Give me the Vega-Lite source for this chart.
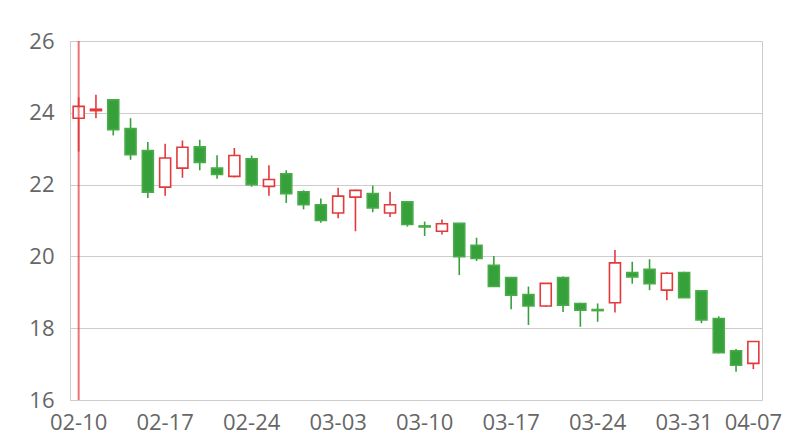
{
  "$schema": "https://vega.github.io/schema/vega-lite/v6.json",
  "width": 692,
  "height": 359,
  "autosize": {"type": "none"},
  "padding": {"left": 70, "top": 41, "right": 38, "bottom": 40},
  "background": "white",
  "config": {
    "view": {"stroke": "#cccccc", "strokeWidth": 1},
    "font": "Open Sans"
  },
  "data": {
    "values": [
      {"date": "02-10", "open": 23.85, "high": 24.43, "low": 22.92, "close": 24.18},
      {"date": "02-11", "open": 24.06, "high": 24.50, "low": 23.85, "close": 24.10},
      {"date": "02-12", "open": 24.36, "high": 24.36, "low": 23.37, "close": 23.53},
      {"date": "02-13", "open": 23.56, "high": 23.85, "low": 22.69, "close": 22.83},
      {"date": "02-14", "open": 22.95, "high": 23.19, "low": 21.63, "close": 21.79},
      {"date": "02-17", "open": 21.93, "high": 23.14, "low": 21.69, "close": 22.74},
      {"date": "02-18", "open": 22.46, "high": 23.23, "low": 22.19, "close": 23.04},
      {"date": "02-19", "open": 23.05, "high": 23.25, "low": 22.40, "close": 22.62},
      {"date": "02-20", "open": 22.46, "high": 22.82, "low": 22.16, "close": 22.28},
      {"date": "02-21", "open": 22.23, "high": 23.02, "low": 22.20, "close": 22.81},
      {"date": "02-24", "open": 22.72, "high": 22.81, "low": 21.94, "close": 22.00},
      {"date": "02-25", "open": 21.95, "high": 22.54, "low": 21.69, "close": 22.14},
      {"date": "02-26", "open": 22.30, "high": 22.40, "low": 21.49, "close": 21.75},
      {"date": "02-27", "open": 21.80, "high": 21.84, "low": 21.31, "close": 21.44},
      {"date": "02-28", "open": 21.44, "high": 21.61, "low": 20.94, "close": 21.00},
      {"date": "03-03", "open": 21.21, "high": 21.91, "low": 21.06, "close": 21.68},
      {"date": "03-04", "open": 21.65, "high": 21.86, "low": 20.70, "close": 21.84},
      {"date": "03-05", "open": 21.75, "high": 21.97, "low": 21.23, "close": 21.35},
      {"date": "03-06", "open": 21.21, "high": 21.80, "low": 21.10, "close": 21.44},
      {"date": "03-07", "open": 21.52, "high": 21.52, "low": 20.83, "close": 20.89},
      {"date": "03-10", "open": 20.85, "high": 20.97, "low": 20.57, "close": 20.82},
      {"date": "03-11", "open": 20.70, "high": 21.03, "low": 20.61, "close": 20.91},
      {"date": "03-12", "open": 20.92, "high": 20.92, "low": 19.48, "close": 19.99},
      {"date": "03-13", "open": 20.31, "high": 20.52, "low": 19.87, "close": 19.94},
      {"date": "03-14", "open": 19.75, "high": 20.01, "low": 19.16, "close": 19.16},
      {"date": "03-17", "open": 19.41, "high": 19.42, "low": 18.53, "close": 18.92},
      {"date": "03-18", "open": 18.94, "high": 19.16, "low": 18.09, "close": 18.62},
      {"date": "03-19", "open": 18.62, "high": 19.25, "low": 18.59, "close": 19.25},
      {"date": "03-20", "open": 19.41, "high": 19.44, "low": 18.45, "close": 18.64},
      {"date": "03-21", "open": 18.69, "high": 18.71, "low": 18.04, "close": 18.50},
      {"date": "03-24", "open": 18.52, "high": 18.69, "low": 18.18, "close": 18.49},
      {"date": "03-25", "open": 18.71, "high": 20.18, "low": 18.44, "close": 19.82},
      {"date": "03-26", "open": 19.55, "high": 19.85, "low": 19.24, "close": 19.43},
      {"date": "03-27", "open": 19.64, "high": 19.92, "low": 19.06, "close": 19.24},
      {"date": "03-28", "open": 19.06, "high": 19.56, "low": 18.78, "close": 19.53},
      {"date": "03-31", "open": 19.55, "high": 19.57, "low": 18.85, "close": 18.85},
      {"date": "04-01", "open": 19.04, "high": 19.04, "low": 18.14, "close": 18.23},
      {"date": "04-02", "open": 18.27, "high": 18.33, "low": 17.30, "close": 17.32},
      {"date": "04-03", "open": 17.37, "high": 17.42, "low": 16.79, "close": 16.97},
      {"date": "04-07", "open": 17.02, "high": 17.63, "low": 16.86, "close": 17.63}
    ]
  },
  "encoding": {
    "x": {
      "field": "date",
      "type": "ordinal",
      "sort": null,
      "scale": {"paddingInner": 0, "paddingOuter": 0},
      "axis": {
        "title": null,
        "values": ["02-10", "02-17", "02-24", "03-03", "03-10", "03-17", "03-24", "03-31", "04-07"],
        "labelAngle": 0,
        "ticks": false,
        "domain": false,
        "labelPadding": 12,
        "labelFontSize": 22,
        "labelColor": "#666666",
        "labelOverlap": false,
        "labelBound": false,
        "labelFont": "Open Sans"
      }
    }
  },
  "layer": [
    {
      "mark": {"type": "rule", "strokeWidth": 1.6},
      "encoding": {
        "y": {
          "field": "low",
          "type": "quantitative",
          "scale": {"domain": [16, 26], "nice": false, "zero": false},
          "axis": {
            "title": null,
            "values": [16, 18, 20, 22, 24, 26],
            "ticks": false,
            "domain": false,
            "grid": true,
            "gridColor": "#cccccc",
            "gridWidth": 1,
            "labelPadding": 16,
            "labelFontSize": 22,
            "labelColor": "#666666",
            "labelFont": "Open Sans"
          }
        },
        "y2": {"field": "high"},
        "color": {
          "condition": {"test": "datum.close >= datum.open", "value": "#e4393c"},
          "value": "#36a13a"
        }
      }
    },
    {
      "mark": {"type": "bar", "size": 11, "strokeWidth": 1.6},
      "encoding": {
        "y": {"field": "open", "type": "quantitative"},
        "y2": {"field": "close"},
        "fill": {
          "condition": {"test": "datum.close >= datum.open", "value": "#ffffff"},
          "value": "#36a13a"
        },
        "stroke": {
          "condition": {"test": "datum.close >= datum.open", "value": "#e4393c"},
          "value": "#4aab4a"
        }
      }
    },
    {
      "transform": [{"filter": "datum.date == '02-10'"}],
      "mark": {"type": "rule", "strokeWidth": 2, "color": "#e4393c", "opacity": 0.7},
      "encoding": {}
    }
  ]
}
